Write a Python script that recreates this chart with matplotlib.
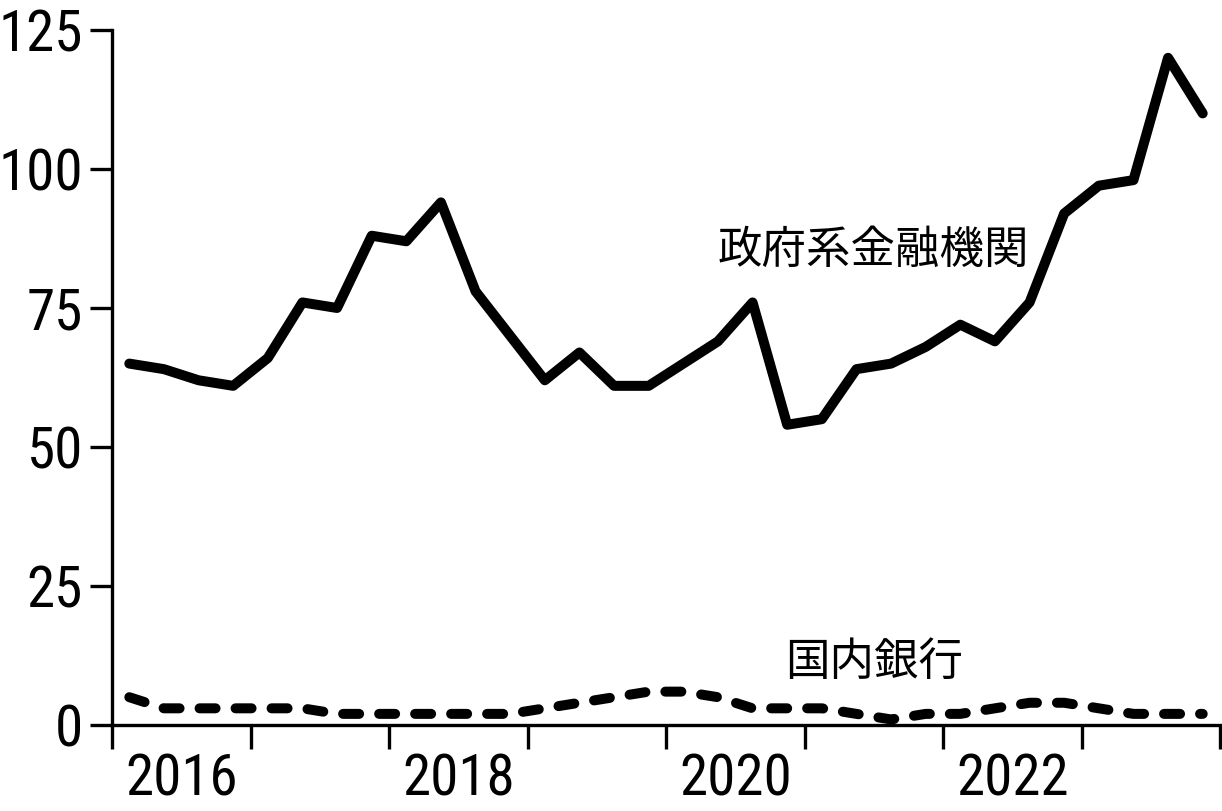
import numpy as np
import matplotlib
matplotlib.use("Agg")
from matplotlib import pyplot as plt
from matplotlib.ticker import FixedLocator, NullFormatter, FixedFormatter

# quarterly values, 2016Q1 .. 2023Q4
quarters = [f"{y}Q{q}" for y in range(2016, 2024) for q in range(1, 5)]
gov_fin = [65, 64, 62, 61, 66, 76, 75, 88, 87, 94, 78, 70, 62, 67, 61, 61,
           65, 69, 76, 54, 55, 64, 65, 68, 72, 69, 76, 92, 97, 98, 120, 110]
domestic_banks = [5, 3, 3, 3, 3, 3, 2, 2, 2, 2, 2, 2, 3, 4, 5, 6,
                  6, 5, 3, 3, 3, 2, 1, 2, 2, 3, 4, 4, 3, 2, 2, 2]
year_labels = ["2016", "2018", "2020", "2022"]
y_ticks = [0, 25, 50, 75, 100, 125]

num_font = ["Roboto Condensed", "Archivo Narrow", "DejaVu Sans"]
jp_font = ["Noto Sans CJK JP", "DejaVu Sans"]

# quarter midpoints on a year axis
x = np.array([int(s[:4]) + (int(s[-1]) - 0.5) / 4 for s in quarters])

fig = plt.figure(figsize=(12.22, 8.11), dpi=100)
ax = fig.add_axes([112 / 1222, 1 - 725 / 811, 1108 / 1222, 695 / 811])

ax.plot(x, gov_fin, color="black", lw=7.2, solid_joinstyle="round",
        solid_capstyle="round", clip_on=False)
ax.plot(x, domestic_banks, color="black", lw=7.2, linestyle=(0, (1.6, 2.0)),
        dash_capstyle="round", dash_joinstyle="round", clip_on=False)

ax.text(2021.5, 85.5, "政府系金融機関", family=jp_font, fontsize=32,
        ha="center", va="center")
ax.text(2021.5, 11.3, "国内銀行", family=jp_font, fontsize=32,
        ha="center", va="center")

ax.set_xlim(2016, 2024)
ax.set_ylim(0, 125)

for s in ["top", "right"]:
    ax.spines[s].set_visible(False)
for s in ["left", "bottom"]:
    ax.spines[s].set_linewidth(2.4)

ax.set_yticks(y_ticks)
ax.set_yticklabels([str(v) for v in y_ticks], family=num_font, fontsize=41)
ax.tick_params(axis="y", length=16, width=2.4, pad=5)

ax.xaxis.set_major_locator(FixedLocator(range(2016, 2025)))
ax.xaxis.set_major_formatter(NullFormatter())
ax.xaxis.set_minor_locator(FixedLocator([int(v) + 0.5 for v in year_labels]))
ax.xaxis.set_minor_formatter(FixedFormatter(year_labels))
ax.tick_params(axis="x", which="major", length=17, width=2.4)
ax.tick_params(axis="x", which="minor", length=0, pad=20)
for lab in ax.get_xticklabels(minor=True):
    lab.set_family(num_font)
    lab.set_fontsize(41)

fig.savefig("out.png", dpi=100)
